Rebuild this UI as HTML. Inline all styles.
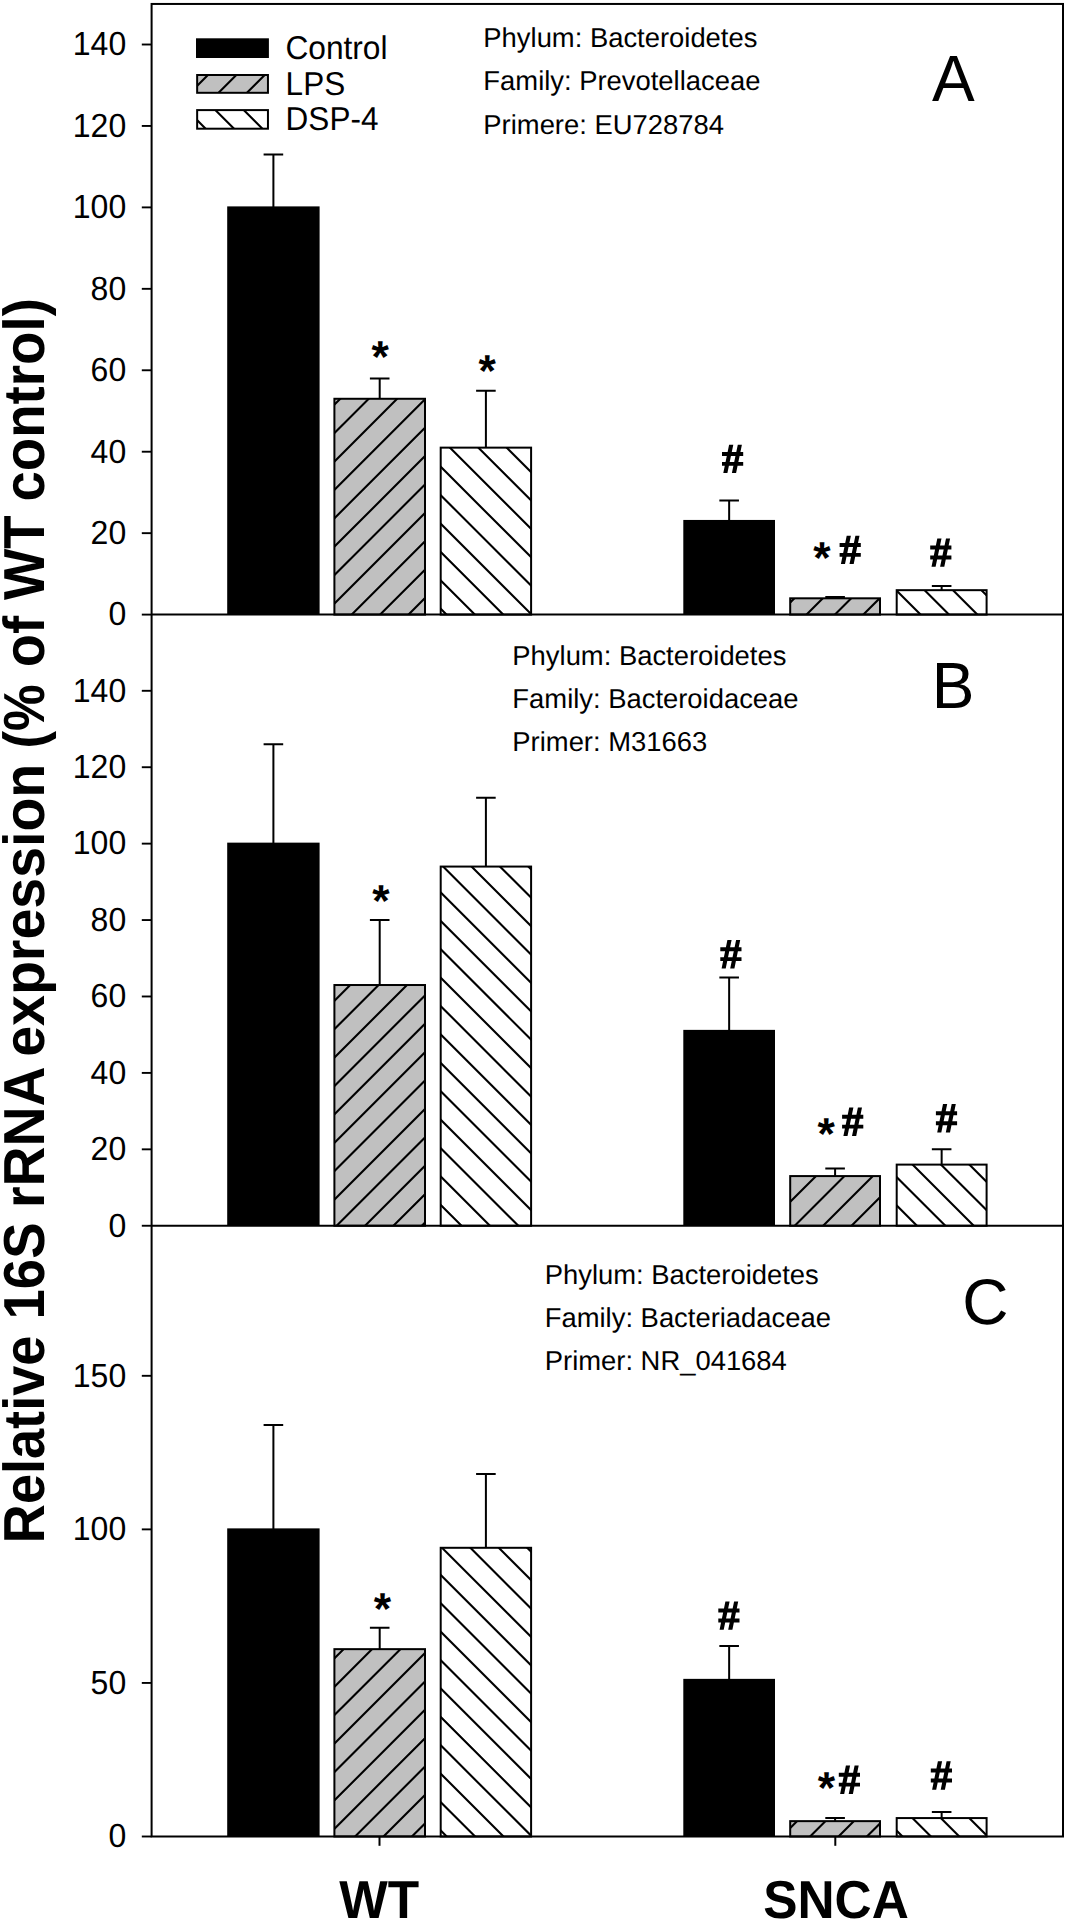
<!DOCTYPE html>
<html lang="en"><head><meta charset="utf-8"><title>Relative 16S rRNA expression</title>
<style>html,body{margin:0;padding:0;background:#fff}body{width:1066px;height:1924px;overflow:hidden;font-family:"Liberation Sans", sans-serif}svg{display:block}</style></head>
<body>
<svg width="1066" height="1924" viewBox="0 0 1066 1924" font-family='"Liberation Sans", sans-serif' fill="#000" text-rendering="geometricPrecision" style="font-kerning:none">
<defs><clipPath id="c1"><rect x="334.40" y="398.78" width="90.60" height="215.82"/></clipPath><clipPath id="c2"><rect x="440.70" y="447.64" width="90.40" height="166.96"/></clipPath><clipPath id="c3"><rect x="790.20" y="598.31" width="89.80" height="16.29"/></clipPath><clipPath id="c4"><rect x="896.70" y="590.17" width="89.90" height="24.43"/></clipPath><clipPath id="c5"><rect x="334.40" y="985.02" width="90.60" height="240.73"/></clipPath><clipPath id="c6"><rect x="440.70" y="866.57" width="90.40" height="359.18"/></clipPath><clipPath id="c7"><rect x="790.20" y="1176.08" width="89.80" height="49.67"/></clipPath><clipPath id="c8"><rect x="896.70" y="1164.61" width="89.90" height="61.14"/></clipPath><clipPath id="c9"><rect x="334.40" y="1649.15" width="90.60" height="187.35"/></clipPath><clipPath id="c10"><rect x="440.70" y="1547.80" width="90.40" height="288.70"/></clipPath><clipPath id="c11"><rect x="790.20" y="1821.14" width="89.80" height="15.36"/></clipPath><clipPath id="c12"><rect x="896.70" y="1818.07" width="89.90" height="18.43"/></clipPath><clipPath id="c13"><rect x="197.15" y="75.00" width="70.80" height="17.80"/></clipPath><clipPath id="c14"><rect x="197.15" y="110.10" width="70.80" height="18.60"/></clipPath></defs>
<path d="M273.40 207.39V154.45M263.60 154.45H283.20" stroke="#000" stroke-width="2.00" fill="none"/>
<rect x="227.20" y="206.39" width="92.40" height="408.21" fill="#000"/>
<path d="M379.70 398.78V378.42M369.90 378.42H389.50" stroke="#000" stroke-width="2.00" fill="none"/>
<rect x="334.40" y="398.78" width="90.60" height="215.82" fill="#c0c0c0"/>
<path clip-path="url(#c1)" d="M329.40 352.90L430.00 252.30M329.40 381.30L430.00 280.70M329.40 409.70L430.00 309.10M329.40 438.10L430.00 337.50M329.40 466.50L430.00 365.90M329.40 494.90L430.00 394.30M329.40 523.30L430.00 422.70M329.40 551.70L430.00 451.10M329.40 580.10L430.00 479.50M329.40 608.50L430.00 507.90M329.40 636.90L430.00 536.30M329.40 665.30L430.00 564.70M329.40 693.70L430.00 593.10M329.40 722.10L430.00 621.50" stroke="#000" stroke-width="2.10" fill="none"/>
<rect x="334.40" y="398.78" width="90.60" height="215.82" fill="none" stroke="#000" stroke-width="2.00"/>
<path d="M485.90 447.64V390.63M476.10 390.63H495.70" stroke="#000" stroke-width="2.00" fill="none"/>
<rect x="440.70" y="447.64" width="90.40" height="166.96" fill="#fff"/>
<path clip-path="url(#c2)" d="M435.70 660.60L536.10 761.00M435.70 632.20L536.10 732.60M435.70 603.80L536.10 704.20M435.70 575.40L536.10 675.80M435.70 547.00L536.10 647.40M435.70 518.60L536.10 619.00M435.70 490.20L536.10 590.60M435.70 461.80L536.10 562.20M435.70 433.40L536.10 533.80M435.70 405.00L536.10 505.40M435.70 376.60L536.10 477.00M435.70 348.20L536.10 448.60" stroke="#000" stroke-width="2.10" fill="none"/>
<rect x="440.70" y="447.64" width="90.40" height="166.96" fill="none" stroke="#000" stroke-width="2.00"/>
<path d="M729.15 520.94V500.58M719.35 500.58H738.95" stroke="#000" stroke-width="2.00" fill="none"/>
<rect x="683.30" y="519.94" width="91.70" height="94.66" fill="#000"/>
<path d="M835.10 598.31V597.09M825.30 597.09H844.90" stroke="#000" stroke-width="2.00" fill="none"/>
<rect x="790.20" y="598.31" width="89.80" height="16.29" fill="#c0c0c0"/>
<path clip-path="url(#c3)" d="M785.20 550.70L885.00 450.90M785.20 579.10L885.00 479.30M785.20 607.50L885.00 507.70M785.20 635.90L885.00 536.10M785.20 664.30L885.00 564.50M785.20 692.70L885.00 592.90M785.20 721.10L885.00 621.30" stroke="#000" stroke-width="2.10" fill="none"/>
<rect x="790.20" y="598.31" width="89.80" height="16.29" fill="none" stroke="#000" stroke-width="2.00"/>
<path d="M941.65 590.17V586.10M931.85 586.10H951.45" stroke="#000" stroke-width="2.00" fill="none"/>
<rect x="896.70" y="590.17" width="89.90" height="24.43" fill="#fff"/>
<path clip-path="url(#c4)" d="M891.70 642.50L991.60 742.40M891.70 614.10L991.60 714.00M891.70 585.70L991.60 685.60M891.70 557.30L991.60 657.20M891.70 528.90L991.60 628.80M891.70 500.50L991.60 600.40M891.70 472.10L991.60 572.00" stroke="#000" stroke-width="2.10" fill="none"/>
<rect x="896.70" y="590.17" width="89.90" height="24.43" fill="none" stroke="#000" stroke-width="2.00"/>
<path d="M273.40 843.64V744.29M263.60 744.29H283.20" stroke="#000" stroke-width="2.00" fill="none"/>
<rect x="227.20" y="842.64" width="92.40" height="383.11" fill="#000"/>
<path d="M379.70 985.02V920.06M369.90 920.06H389.50" stroke="#000" stroke-width="2.00" fill="none"/>
<rect x="334.40" y="985.02" width="90.60" height="240.73" fill="#c0c0c0"/>
<path clip-path="url(#c5)" d="M329.40 949.00L430.00 848.40M329.40 977.40L430.00 876.80M329.40 1005.80L430.00 905.20M329.40 1034.20L430.00 933.60M329.40 1062.60L430.00 962.00M329.40 1091.00L430.00 990.40M329.40 1119.40L430.00 1018.80M329.40 1147.80L430.00 1047.20M329.40 1176.20L430.00 1075.60M329.40 1204.60L430.00 1104.00M329.40 1233.00L430.00 1132.40M329.40 1261.40L430.00 1160.80M329.40 1289.80L430.00 1189.20M329.40 1318.20L430.00 1217.60M329.40 1346.60L430.00 1246.00" stroke="#000" stroke-width="2.10" fill="none"/>
<rect x="334.40" y="985.02" width="90.60" height="240.73" fill="none" stroke="#000" stroke-width="2.00"/>
<path d="M485.90 866.57V797.79M476.10 797.79H495.70" stroke="#000" stroke-width="2.00" fill="none"/>
<rect x="440.70" y="866.57" width="90.40" height="359.18" fill="#fff"/>
<path clip-path="url(#c6)" d="M435.70 1256.70L536.10 1357.10M435.70 1228.30L536.10 1328.70M435.70 1199.90L536.10 1300.30M435.70 1171.50L536.10 1271.90M435.70 1143.10L536.10 1243.50M435.70 1114.70L536.10 1215.10M435.70 1086.30L536.10 1186.70M435.70 1057.90L536.10 1158.30M435.70 1029.50L536.10 1129.90M435.70 1001.10L536.10 1101.50M435.70 972.70L536.10 1073.10M435.70 944.30L536.10 1044.70M435.70 915.90L536.10 1016.30M435.70 887.50L536.10 987.90M435.70 859.10L536.10 959.50M435.70 830.70L536.10 931.10M435.70 802.30L536.10 902.70M435.70 773.90L536.10 874.30M435.70 745.50L536.10 845.90" stroke="#000" stroke-width="2.10" fill="none"/>
<rect x="440.70" y="866.57" width="90.40" height="359.18" fill="none" stroke="#000" stroke-width="2.00"/>
<path d="M729.15 1030.87V977.38M719.35 977.38H738.95" stroke="#000" stroke-width="2.00" fill="none"/>
<rect x="683.30" y="1029.87" width="91.70" height="195.88" fill="#000"/>
<path d="M835.10 1176.08V1168.43M825.30 1168.43H844.90" stroke="#000" stroke-width="2.00" fill="none"/>
<rect x="790.20" y="1176.08" width="89.80" height="49.67" fill="#c0c0c0"/>
<path clip-path="url(#c7)" d="M785.20 1150.10L885.00 1050.30M785.20 1178.50L885.00 1078.70M785.20 1206.90L885.00 1107.10M785.20 1235.30L885.00 1135.50M785.20 1263.70L885.00 1163.90M785.20 1292.10L885.00 1192.30M785.20 1320.50L885.00 1220.70M785.20 1348.90L885.00 1249.10" stroke="#000" stroke-width="2.10" fill="none"/>
<rect x="790.20" y="1176.08" width="89.80" height="49.67" fill="none" stroke="#000" stroke-width="2.00"/>
<path d="M941.65 1164.61V1149.33M931.85 1149.33H951.45" stroke="#000" stroke-width="2.00" fill="none"/>
<rect x="896.70" y="1164.61" width="89.90" height="61.14" fill="#fff"/>
<path clip-path="url(#c8)" d="M891.70 1257.30L991.60 1357.20M891.70 1228.90L991.60 1328.80M891.70 1200.50L991.60 1300.40M891.70 1172.10L991.60 1272.00M891.70 1143.70L991.60 1243.60M891.70 1115.30L991.60 1215.20M891.70 1086.90L991.60 1186.80M891.70 1058.50L991.60 1158.40" stroke="#000" stroke-width="2.10" fill="none"/>
<rect x="896.70" y="1164.61" width="89.90" height="61.14" fill="none" stroke="#000" stroke-width="2.00"/>
<path d="M273.40 1529.37V1424.95M263.60 1424.95H283.20" stroke="#000" stroke-width="2.00" fill="none"/>
<rect x="227.20" y="1528.37" width="92.40" height="308.13" fill="#000"/>
<path d="M379.70 1649.15V1627.65M369.90 1627.65H389.50" stroke="#000" stroke-width="2.00" fill="none"/>
<rect x="334.40" y="1649.15" width="90.60" height="187.35" fill="#c0c0c0"/>
<path clip-path="url(#c9)" d="M329.40 1606.60L430.00 1506.00M329.40 1635.00L430.00 1534.40M329.40 1663.40L430.00 1562.80M329.40 1691.80L430.00 1591.20M329.40 1720.20L430.00 1619.60M329.40 1748.60L430.00 1648.00M329.40 1777.00L430.00 1676.40M329.40 1805.40L430.00 1704.80M329.40 1833.80L430.00 1733.20M329.40 1862.20L430.00 1761.60M329.40 1890.60L430.00 1790.00M329.40 1919.00L430.00 1818.40M329.40 1947.40L430.00 1846.80" stroke="#000" stroke-width="2.10" fill="none"/>
<rect x="334.40" y="1649.15" width="90.60" height="187.35" fill="none" stroke="#000" stroke-width="2.00"/>
<path d="M485.90 1547.80V1474.09M476.10 1474.09H495.70" stroke="#000" stroke-width="2.00" fill="none"/>
<rect x="440.70" y="1547.80" width="90.40" height="288.70" fill="#fff"/>
<path clip-path="url(#c10)" d="M435.70 1882.30L536.10 1982.70M435.70 1853.90L536.10 1954.30M435.70 1825.50L536.10 1925.90M435.70 1797.10L536.10 1897.50M435.70 1768.70L536.10 1869.10M435.70 1740.30L536.10 1840.70M435.70 1711.90L536.10 1812.30M435.70 1683.50L536.10 1783.90M435.70 1655.10L536.10 1755.50M435.70 1626.70L536.10 1727.10M435.70 1598.30L536.10 1698.70M435.70 1569.90L536.10 1670.30M435.70 1541.50L536.10 1641.90M435.70 1513.10L536.10 1613.50M435.70 1484.70L536.10 1585.10M435.70 1456.30L536.10 1556.70M435.70 1427.90L536.10 1528.30" stroke="#000" stroke-width="2.10" fill="none"/>
<rect x="440.70" y="1547.80" width="90.40" height="288.70" fill="none" stroke="#000" stroke-width="2.00"/>
<path d="M729.15 1679.86V1646.08M719.35 1646.08H738.95" stroke="#000" stroke-width="2.00" fill="none"/>
<rect x="683.30" y="1678.86" width="91.70" height="157.64" fill="#000"/>
<path d="M835.10 1821.14V1818.07M825.30 1818.07H844.90" stroke="#000" stroke-width="2.00" fill="none"/>
<rect x="790.20" y="1821.14" width="89.80" height="15.36" fill="#c0c0c0"/>
<path clip-path="url(#c11)" d="M785.20 1776.20L885.00 1676.40M785.20 1804.60L885.00 1704.80M785.20 1833.00L885.00 1733.20M785.20 1861.40L885.00 1761.60M785.20 1889.80L885.00 1790.00M785.20 1918.20L885.00 1818.40M785.20 1946.60L885.00 1846.80" stroke="#000" stroke-width="2.10" fill="none"/>
<rect x="790.20" y="1821.14" width="89.80" height="15.36" fill="none" stroke="#000" stroke-width="2.00"/>
<path d="M941.65 1818.07V1811.93M931.85 1811.93H951.45" stroke="#000" stroke-width="2.00" fill="none"/>
<rect x="896.70" y="1818.07" width="89.90" height="18.43" fill="#fff"/>
<path clip-path="url(#c12)" d="M891.70 1882.50L991.60 1982.40M891.70 1854.10L991.60 1954.00M891.70 1825.70L991.60 1925.60M891.70 1797.30L991.60 1897.20M891.70 1768.90L991.60 1868.80M891.70 1740.50L991.60 1840.40M891.70 1712.10L991.60 1812.00" stroke="#000" stroke-width="2.10" fill="none"/>
<rect x="896.70" y="1818.07" width="89.90" height="18.43" fill="none" stroke="#000" stroke-width="2.00"/>
<rect x="151.60" y="3.95" width="911.40" height="1832.55" stroke="#000" stroke-width="2.00" fill="none"/>
<path d="M151.60 614.60H1063.00" stroke="#000" stroke-width="2" fill="none"/>
<path d="M141.80 614.60H151.60" stroke="#000" stroke-width="1.9" fill="none"/>
<text transform="translate(126.20 625.40) scale(1 1.0450)" font-size="32.00" text-anchor="end">0</text>
<path d="M141.80 533.16H151.60" stroke="#000" stroke-width="1.9" fill="none"/>
<text transform="translate(126.20 543.96) scale(1 1.0450)" font-size="32.00" text-anchor="end">20</text>
<path d="M141.80 451.72H151.60" stroke="#000" stroke-width="1.9" fill="none"/>
<text transform="translate(126.20 462.52) scale(1 1.0450)" font-size="32.00" text-anchor="end">40</text>
<path d="M141.80 370.27H151.60" stroke="#000" stroke-width="1.9" fill="none"/>
<text transform="translate(126.20 381.07) scale(1 1.0450)" font-size="32.00" text-anchor="end">60</text>
<path d="M141.80 288.83H151.60" stroke="#000" stroke-width="1.9" fill="none"/>
<text transform="translate(126.20 299.63) scale(1 1.0450)" font-size="32.00" text-anchor="end">80</text>
<path d="M141.80 207.39H151.60" stroke="#000" stroke-width="1.9" fill="none"/>
<text transform="translate(126.20 218.19) scale(1 1.0450)" font-size="32.00" text-anchor="end">100</text>
<path d="M141.80 125.95H151.60" stroke="#000" stroke-width="1.9" fill="none"/>
<text transform="translate(126.20 136.75) scale(1 1.0450)" font-size="32.00" text-anchor="end">120</text>
<path d="M141.80 44.51H151.60" stroke="#000" stroke-width="1.9" fill="none"/>
<text transform="translate(126.20 55.31) scale(1 1.0450)" font-size="32.00" text-anchor="end">140</text>
<path d="M151.60 1225.75H1063.00" stroke="#000" stroke-width="2" fill="none"/>
<path d="M141.80 1225.75H151.60" stroke="#000" stroke-width="1.9" fill="none"/>
<text transform="translate(126.20 1236.55) scale(1 1.0450)" font-size="32.00" text-anchor="end">0</text>
<path d="M141.80 1149.33H151.60" stroke="#000" stroke-width="1.9" fill="none"/>
<text transform="translate(126.20 1160.13) scale(1 1.0450)" font-size="32.00" text-anchor="end">20</text>
<path d="M141.80 1072.91H151.60" stroke="#000" stroke-width="1.9" fill="none"/>
<text transform="translate(126.20 1083.71) scale(1 1.0450)" font-size="32.00" text-anchor="end">40</text>
<path d="M141.80 996.48H151.60" stroke="#000" stroke-width="1.9" fill="none"/>
<text transform="translate(126.20 1007.28) scale(1 1.0450)" font-size="32.00" text-anchor="end">60</text>
<path d="M141.80 920.06H151.60" stroke="#000" stroke-width="1.9" fill="none"/>
<text transform="translate(126.20 930.86) scale(1 1.0450)" font-size="32.00" text-anchor="end">80</text>
<path d="M141.80 843.64H151.60" stroke="#000" stroke-width="1.9" fill="none"/>
<text transform="translate(126.20 854.44) scale(1 1.0450)" font-size="32.00" text-anchor="end">100</text>
<path d="M141.80 767.22H151.60" stroke="#000" stroke-width="1.9" fill="none"/>
<text transform="translate(126.20 778.02) scale(1 1.0450)" font-size="32.00" text-anchor="end">120</text>
<path d="M141.80 690.80H151.60" stroke="#000" stroke-width="1.9" fill="none"/>
<text transform="translate(126.20 701.60) scale(1 1.0450)" font-size="32.00" text-anchor="end">140</text>
<path d="M141.80 1836.50H151.60" stroke="#000" stroke-width="1.9" fill="none"/>
<text transform="translate(126.20 1847.30) scale(1 1.0450)" font-size="32.00" text-anchor="end">0</text>
<path d="M141.80 1682.93H151.60" stroke="#000" stroke-width="1.9" fill="none"/>
<text transform="translate(126.20 1693.73) scale(1 1.0450)" font-size="32.00" text-anchor="end">50</text>
<path d="M141.80 1529.37H151.60" stroke="#000" stroke-width="1.9" fill="none"/>
<text transform="translate(126.20 1540.17) scale(1 1.0450)" font-size="32.00" text-anchor="end">100</text>
<path d="M141.80 1375.81H151.60" stroke="#000" stroke-width="1.9" fill="none"/>
<text transform="translate(126.20 1386.61) scale(1 1.0450)" font-size="32.00" text-anchor="end">150</text>
<path d="M379.50 1836.50V1845.80" stroke="#000" stroke-width="2" fill="none"/>
<path d="M835.30 1836.50V1845.80" stroke="#000" stroke-width="2" fill="none"/>
<rect x="196.0" y="38.3" width="72.9" height="19.7" fill="#000"/>
<rect x="197.15" y="75.00" width="70.80" height="17.80" fill="#c0c0c0"/>
<path clip-path="url(#c13)" d="M192.15 33.95L272.95 -46.85M192.15 62.35L272.95 -18.45M192.15 90.75L272.95 9.95M192.15 119.15L272.95 38.35M192.15 147.55L272.95 66.75M192.15 175.95L272.95 95.15" stroke="#000" stroke-width="2.10" fill="none"/>
<rect x="197.15" y="75.00" width="70.80" height="17.80" fill="none" stroke="#000" stroke-width="2.00"/>
<rect x="197.15" y="110.10" width="70.80" height="18.60" fill="#fff"/>
<path clip-path="url(#c14)" d="M192.15 172.05L272.95 252.85M192.15 143.65L272.95 224.45M192.15 115.25L272.95 196.05M192.15 86.85L272.95 167.65M192.15 58.45L272.95 139.25M192.15 30.05L272.95 110.85" stroke="#000" stroke-width="2.10" fill="none"/>
<rect x="197.15" y="110.10" width="70.80" height="18.60" fill="none" stroke="#000" stroke-width="2.00"/>
<text transform="translate(285.38 58.80) scale(1 1.0350)" font-size="31.70">Control</text>
<text transform="translate(285.62 94.50) scale(1 1.0500)" font-size="31.50">LPS</text>
<text transform="translate(285.62 130.10) scale(1 1.0500)" font-size="31.50">DSP-4</text>
<text x="483.35" y="46.90" font-size="27.40">Phylum: Bacteroidetes</text>
<text x="483.35" y="90.30" font-size="27.40">Family: Prevotellaceae</text>
<text x="483.35" y="133.60" font-size="27.40">Primere: EU728784</text>
<text x="512.35" y="664.90" font-size="27.40">Phylum: Bacteroidetes</text>
<text x="512.35" y="707.90" font-size="27.40">Family: Bacteroidaceae</text>
<text x="512.35" y="751.10" font-size="27.40">Primer: M31663</text>
<text x="544.75" y="1283.80" font-size="27.40">Phylum: Bacteroidetes</text>
<text x="544.75" y="1326.80" font-size="27.40">Family: Bacteriadaceae</text>
<text x="544.75" y="1370.00" font-size="27.40">Primer: NR_041684</text>
<text transform="translate(932.07 101.20) scale(1 1.0200)" font-size="64.00">A</text>
<text transform="translate(931.65 708.00) scale(1 1.0200)" font-size="64.00">B</text>
<text transform="translate(962.14 1323.70) scale(1 1.0050)" font-size="64.00">C</text>
<text x="371.57" y="372.14" font-size="44.60" font-weight="bold">*</text>
<text x="478.57" y="385.84" font-size="44.60" font-weight="bold">*</text>
<path transform="translate(722.00 444.70)" d="M7.1 0H11.3L5.4 28.4H1.3ZM15.8 0H19.9L14.1 28.4H9.9ZM0 7.2H21.2V11.2H0ZM0 17.2H21.2V21.1H0Z"/>
<text x="813.17" y="573.04" font-size="44.60" font-weight="bold">*</text>
<path transform="translate(839.60 535.70)" d="M7.1 0H11.3L5.4 28.4H1.3ZM15.8 0H19.9L14.1 28.4H9.9ZM0 7.2H21.2V11.2H0ZM0 17.2H21.2V21.1H0Z"/>
<path transform="translate(930.20 538.40)" d="M7.1 0H11.3L5.4 28.4H1.3ZM15.8 0H19.9L14.1 28.4H9.9ZM0 7.2H21.2V11.2H0ZM0 17.2H21.2V21.1H0Z"/>
<text x="372.17" y="916.34" font-size="44.60" font-weight="bold">*</text>
<path transform="translate(720.30 940.00)" d="M7.1 0H11.3L5.4 28.4H1.3ZM15.8 0H19.9L14.1 28.4H9.9ZM0 7.2H21.2V11.2H0ZM0 17.2H21.2V21.1H0Z"/>
<text x="817.47" y="1148.94" font-size="44.60" font-weight="bold">*</text>
<path transform="translate(842.10 1107.50)" d="M7.1 0H11.3L5.4 28.4H1.3ZM15.8 0H19.9L14.1 28.4H9.9ZM0 7.2H21.2V11.2H0ZM0 17.2H21.2V21.1H0Z"/>
<path transform="translate(935.90 1104.10)" d="M7.1 0H11.3L5.4 28.4H1.3ZM15.8 0H19.9L14.1 28.4H9.9ZM0 7.2H21.2V11.2H0ZM0 17.2H21.2V21.1H0Z"/>
<text x="373.77" y="1624.44" font-size="44.60" font-weight="bold">*</text>
<path transform="translate(718.30 1601.40)" d="M7.1 0H11.3L5.4 28.4H1.3ZM15.8 0H19.9L14.1 28.4H9.9ZM0 7.2H21.2V11.2H0ZM0 17.2H21.2V21.1H0Z"/>
<text x="817.67" y="1803.34" font-size="44.60" font-weight="bold">*</text>
<path transform="translate(838.80 1765.50)" d="M7.1 0H11.3L5.4 28.4H1.3ZM15.8 0H19.9L14.1 28.4H9.9ZM0 7.2H21.2V11.2H0ZM0 17.2H21.2V21.1H0Z"/>
<path transform="translate(930.80 1761.30)" d="M7.1 0H11.3L5.4 28.4H1.3ZM15.8 0H19.9L14.1 28.4H9.9ZM0 7.2H21.2V11.2H0ZM0 17.2H21.2V21.1H0Z"/>
<text transform="translate(379.10 1918.00) scale(1 1.0400)" font-size="51.40" font-weight="bold" text-anchor="middle">WT</text>
<text transform="translate(836.00 1918.20) scale(1 1.0400)" font-size="51.40" font-weight="bold" text-anchor="middle">SNCA</text>
<text transform="translate(44.00 1543.15) rotate(-90) scale(1 1.0698)" font-size="54.10" font-weight="bold">Relative</text>
<text transform="translate(44.00 1319.44) rotate(-90) scale(1 1.0619)" font-size="54.50" font-weight="bold">16S</text>
<text transform="translate(44.00 1207.99) rotate(-90) scale(1 1.0447)" font-size="55.40" font-weight="bold">rRNA</text>
<text transform="translate(44.00 1056.78) rotate(-90) scale(1 1.0428)" font-size="55.50" font-weight="bold">expression</text>
<text transform="translate(44.00 748.56) rotate(-90) scale(1 1.1024)" font-size="52.50" font-weight="bold">(%</text>
<text transform="translate(44.00 667.24) rotate(-90) scale(1 1.0639)" font-size="54.40" font-weight="bold">of</text>
<text transform="translate(44.00 600.02) rotate(-90) scale(1 1.0639)" font-size="54.40" font-weight="bold">WT</text>
<text transform="translate(44.00 501.61) rotate(-90) scale(1 1.0581)" font-size="54.70" font-weight="bold">control)</text>
</svg>
</body></html>
